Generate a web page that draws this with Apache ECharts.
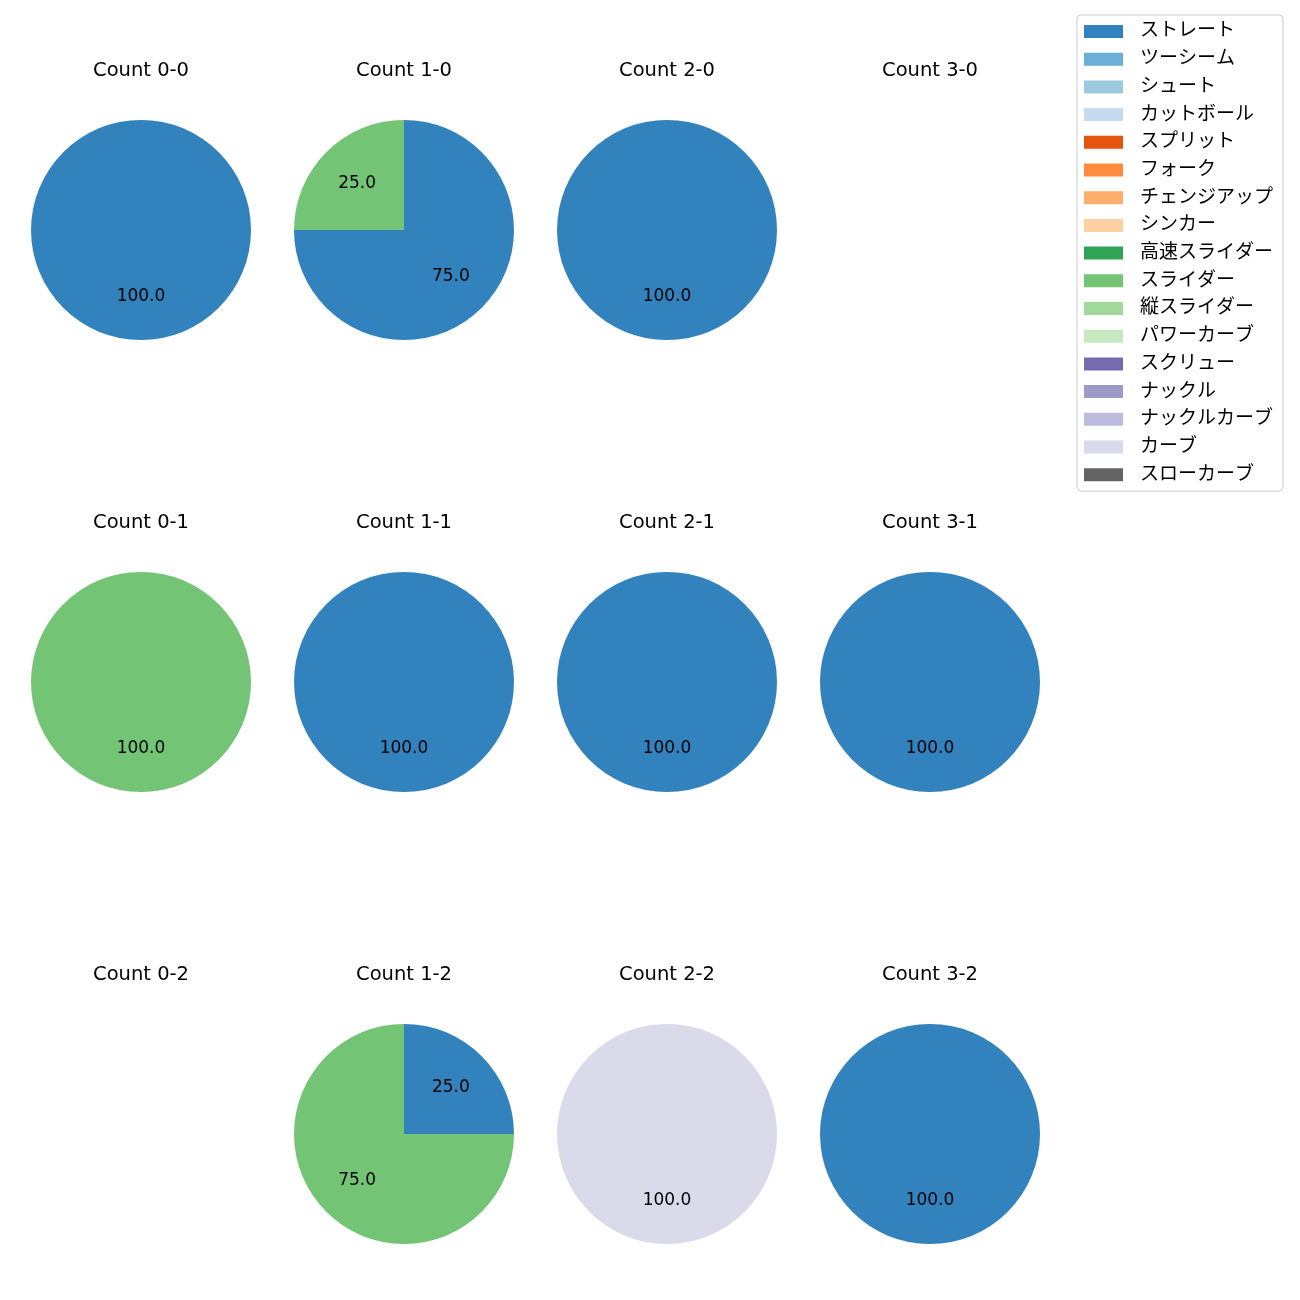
<!DOCTYPE html>
<html><head><meta charset="utf-8">
<script src="https://cdn.jsdelivr.net/npm/echarts@6/dist/echarts.min.js"></script>
<style>html,body{margin:0;padding:0;background:#fff}#c{width:1300px;height:1300px}</style>
</head><body><div id="c"></div>
<script>
const pitchTypes = ['ストレート','ツーシーム','シュート','カットボール','スプリット','フォーク','チェンジアップ','シンカー','高速スライダー','スライダー','縦スライダー','パワーカーブ','スクリュー','ナックル','ナックルカーブ','カーブ','スローカーブ'];
const pitchColors = ['#3182bd','#6baed6','#9ecae1','#c6dbef','#e6550d','#fd8d3c','#fdae6b','#fdd0a2','#31a354','#74c476','#a1d99b','#c7e9c0','#756bb1','#9e9ac8','#bcbddc','#dadaeb','#636363'];
const counts = ['0-0','1-0','2-0','3-0','0-1','1-1','2-1','3-1','0-2','1-2','2-2','3-2'];
const straight = [100,75,100,0, 0,100,100,100, 0,25,0,100];
const slider   = [0,25,0,0, 100,0,0,0, 0,75,0,0];
const curve    = [0,0,0,0, 0,0,0,0, 0,0,100,0];

const seriesByPitch = {'ストレート': straight, 'スライダー': slider, 'カーブ': curve};
const colX = [141, 404, 667, 930];
const rowY = [230, 682, 1134];
const titleY = [71, 523, 975];
const R = 110;
const FONT = '"DejaVu Sans", "Noto Sans CJK JP", sans-serif';

const chart = echarts.init(document.getElementById('c'));
const series = [];
const graphics = [];
counts.forEach((cnt, i) => {
  const col = i % 4, row = Math.floor(i / 4);
  const cx = colX[col], cy = rowY[row];
  graphics.push({type:'text', x: cx, y: titleY[row], style:{text:'Count ' + cnt, fill:'#000', font:'19.5px ' + FONT, textAlign:'center', textVerticalAlign:'middle'}});
  const data = [];
  pitchTypes.forEach((p, k) => {
    const arr = seriesByPitch[p];
    if (arr && arr[i] > 0) data.push({name: p, value: arr[i], itemStyle:{color: pitchColors[k]}});
  });
  if (!data.length) return;
  const total = data.reduce((s, d) => s + d.value, 0);
  series.push({type:'pie', center:[cx, cy], radius:[0, R], startAngle:90, clockwise:true, silent:true,
    data: data, label:{show:false}, labelLine:{show:false}, itemStyle:{borderWidth:0}, animation:false});
  series.push({type:'pie', center:[cx, cy], radius:[0, R * 1.15], startAngle:90, clockwise:true, silent:true, z:5,
    data: data.map(d => ({name:d.name, value:d.value, itemStyle:{color:'rgba(0,0,0,0)'}})),
    legendHoverLink:false,
    label:{show:true, position:'inside', color:'#000', fontSize:17, fontFamily:FONT,
      formatter: p => (p.value / total * 100).toFixed(1)},
    labelLine:{show:false}, itemStyle:{borderWidth:0}, animation:false});
});
// legend carrier series (not visible)
series.unshift({type:'pie', center:[-500,-500], radius:[0,1], silent:true, label:{show:false}, labelLine:{show:false},
  data: pitchTypes.map((p,k) => ({name:p, value:1, itemStyle:{color:pitchColors[k]}})), animation:false});

chart.setOption({
  animation:false,
  legend:{orient:'vertical', left:1077, top:15, data: pitchTypes, selectedMode:false,
    itemWidth:39, itemHeight:13, itemGap:8.7, icon:'rect',
    borderColor:'#cccccc', borderWidth:1, borderRadius:4, padding:[7,10,7,7],
    textStyle:{fontSize:19, fontFamily:FONT, color:'#000', lineHeight:18, padding:[0,0,0,12]}},
  graphic: graphics,
  series: series
});
</script></body></html>
